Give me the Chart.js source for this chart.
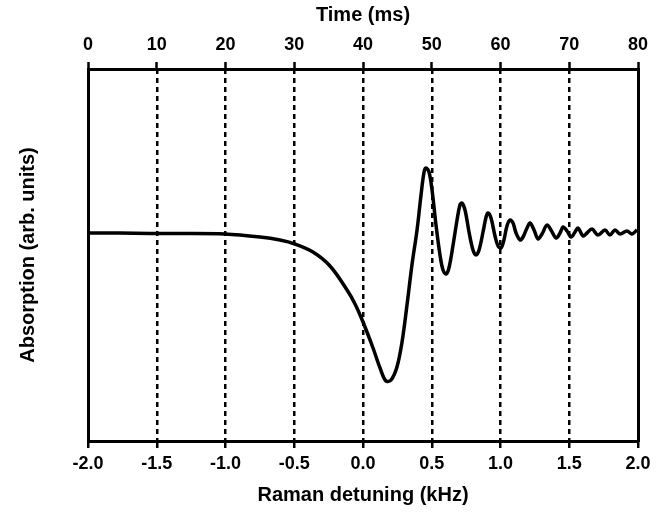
<!DOCTYPE html>
<html>
<head>
<meta charset="utf-8">
<script src="https://cdn.jsdelivr.net/npm/chart.js@4.4.1/dist/chart.umd.min.js"></script>
<style>
    html, body { margin: 0; padding: 0; background: #fff; }
    canvas { display: block; }
</style>
</head>
<body>
<canvas id="ramanChart" width="672" height="514"></canvas>
<script>
// Raman detuning scan
const detuningKHz = [
    -2.000, -1.767, -1.549, -1.331, -1.004, -0.749, -0.604, -0.495, -0.364, -0.240,
    -0.116, -0.058, 0.000, 0.073, 0.124, 0.167, 0.204, 0.247, 0.284, 0.320, 0.356,
    0.393, 0.422, 0.444, 0.458, 0.480, 0.502, 0.531, 0.560, 0.582, 0.604,
    0.625, 0.655, 0.684, 0.705, 0.720, 0.742, 0.771, 0.800, 0.822, 0.844,
    0.873, 0.895, 0.909, 0.931, 0.960, 0.982, 1.004, 1.025, 1.047, 1.069,
    1.091, 1.113, 1.142, 1.164, 1.193, 1.215, 1.244, 1.273, 1.302, 1.338,
    1.367, 1.404, 1.433, 1.455, 1.484, 1.513, 1.542, 1.564, 1.600, 1.629,
    1.665, 1.709, 1.760, 1.796, 1.833, 1.869, 1.920, 1.956, 1.993,
];
const absorption = [
    0, 0, -0.05, -0.05, -0.1, -0.4, -0.7, -1.1, -1.9, -3.3,
    -5.7, -7.1, -8.9, -11.5, -13.5, -14.8, -14.7, -13.4, -10.9, -7.2, -3.2,
    0.3, 3.8, 6.1, 6.5, 6.1, 4.3, 0.8, -2.2, -3.7, -4.1,
    -3.5, -1.2, 1.3, 2.8, 3.0, 2.3, 0.1, -1.7, -2.2, -1.7,
    0.1, 1.6, 2.0, 1.5, -0.3, -1.3, -1.5, -0.7, 0.7, 1.3,
    1.0, 0, -0.7, -0.4, 0.5, 1.0, 0.3, -0.6, -0.1, 0.8,
    0.3, -0.5, 0, 0.6, 0.2, -0.4, 0.1, 0.5, -0.3, 0,
    0.4, -0.2, 0.3, -0.2, 0.3, -0.1, 0.2, -0.1, 0.3,
];

const detuningRange = [-2.0, 2.0];   // kHz, step 0.5
const timeRange = [0, 80];           // ms, step 10
const absorptionRange = [-20.8, 16.4];

const bold = (size) => ({ family: '"Liberation Sans", Arial, sans-serif', size, weight: 'bold' });

const edgeOnly = (ctx) => {
    const ticks = ctx.scale.ticks;
    return (ctx.index === 0 || ctx.index === ticks.length - 1) ? 'rgba(0,0,0,0)' : '#000';
};

new Chart(document.getElementById('ramanChart'), {
    type: 'line',
    data: {
        datasets: [{
            data: detuningKHz.map((x, i) => ({ x, y: absorption[i] })),
            borderColor: '#000',
            borderWidth: 3.5,
            pointRadius: 0,
            tension: 0.35,
            fill: false,
        }],
    },
    options: {
        responsive: false,
        animation: false,
        events: [],
        layout: { padding: 0 },
        plugins: { legend: { display: false }, tooltip: { enabled: false } },
        scales: {
            x: {
                type: 'linear',
                position: 'bottom',
                min: detuningRange[0],
                max: detuningRange[1],
                afterFit: (s) => { s.height = 73; },
                ticks: {
                    stepSize: 0.5,
                    autoSkip: false,
                    maxRotation: 0,
                    padding: 5,
                    color: '#000',
                    font: bold(18),
                    callback: (v) => v.toFixed(1),
                },
                grid: {
                    color: edgeOnly,
                    lineWidth: 2.5,
                    tickColor: '#000',
                    tickWidth: 2.5,
                    tickLength: 7,
                    tickBorderDash: [],
                },
                border: { display: true, color: '#000', width: 3, dash: [5, 4] },
                title: {
                    display: true,
                    text: 'Raman detuning (kHz)',
                    color: '#000',
                    font: bold(20),
                    padding: { top: 0, bottom: 7 },
                },
            },
            x2: {
                type: 'linear',
                position: 'top',
                min: timeRange[0],
                max: timeRange[1],
                afterFit: (s) => { s.height = 69; },
                ticks: {
                    stepSize: 10,
                    autoSkip: false,
                    maxRotation: 0,
                    padding: 6,
                    color: '#000',
                    font: bold(18),
                },
                grid: {
                    drawOnChartArea: false,
                    color: '#000',
                    tickColor: '#000',
                    tickWidth: 2.5,
                    tickLength: 7,
                },
                border: { display: true, color: '#000', width: 3 },
                title: {
                    display: true,
                    text: 'Time (ms)',
                    color: '#000',
                    font: bold(20),
                    padding: { top: 3, bottom: 0 },
                },
            },
            y: {
                position: 'left',
                min: absorptionRange[0],
                max: absorptionRange[1],
                afterFit: (s) => { s.width = 88; },
                ticks: { display: false },
                grid: { display: false },
                border: { display: true, color: '#000', width: 3 },
                title: {
                    display: true,
                    text: 'Absorption (arb. units)',
                    color: '#000',
                    font: bold(20),
                    padding: { top: 16, bottom: 0 },
                },
            },
            y2: {
                position: 'right',
                min: absorptionRange[0],
                max: absorptionRange[1],
                afterFit: (s) => { s.width = 34; },
                ticks: { display: false },
                grid: { display: false },
                border: { display: true, color: '#000', width: 3 },
            },
        },
    },
});
</script>
</body>
</html>
